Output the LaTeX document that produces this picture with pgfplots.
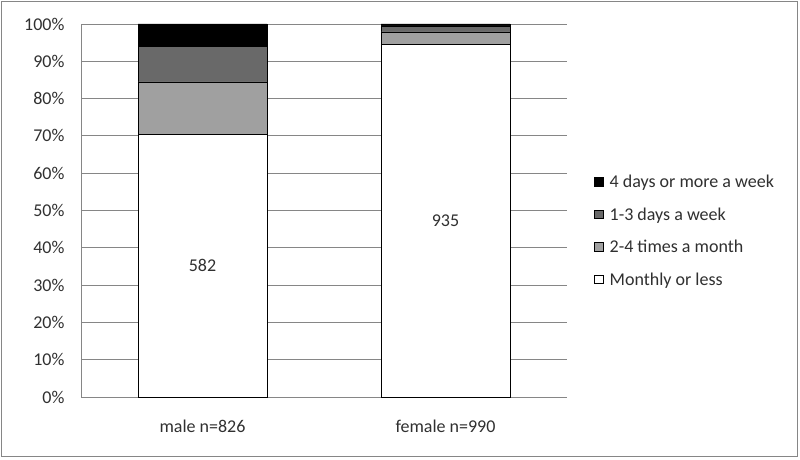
\documentclass[border=0pt]{standalone}
\usepackage{pgfplots}
\pgfplotsset{compat=1.18}
\usepackage{fontspec}
\setmainfont{Carlito}
\definecolor{darkg}{HTML}{696969}
\definecolor{lightg}{HTML}{A0A0A0}
\definecolor{gridc}{HTML}{868686}
\definecolor{txt}{HTML}{303030}
\newcommand{\ff}{\fontsize{18bp}{20bp}\selectfont}
\begin{document}
\begin{tikzpicture}
\useasboundingbox (-81bp,-63bp) rectangle (719bp,397bp);
\begin{axis}[
  at={(0,0)}, anchor=south west,
  scale only axis, width=486bp, height=373bp,
  ybar stacked, bar width=129bp,
  xmin=-0.5, xmax=1.5, ymin=0, ymax=100,
  xtick={0,1}, xticklabels={male n=826, female n=990},
  ytick={0,10,...,100},
  yticklabel={\pgfmathprintnumber{\tick}\%},
  /pgf/number format/assume math mode=true,
  ymajorgrids, grid style={gridc, line width=0.8bp},
  major tick length=0pt,
  axis lines*=left,
  x axis line style={draw=none},
  y axis line style={gridc, line width=0.8bp, -},
  every tick label/.append style={font=\ff, text=txt},
  yticklabel style={xshift=-13bp},
  xticklabel style={yshift=-19bp},
  legend style={at={(rel axis cs:1.056,0.6)}, anchor=north west, draw=none,
    font=\ff, text=txt, row sep=14.5bp, inner sep=0pt,
    cells={anchor=west}},
  legend image code/.code={\draw[#1, draw=black, line width=0.5bp] (0bp,-3.5bp) rectangle (8.5bp,5bp);
     \path[draw=none, fill=none] (0bp,0bp) -- (13bp,0bp);},
  reverse legend,
  every axis plot/.append style={draw=black, line width=0.6bp},
]
\addplot[fill=white] coordinates {(0,70.46) (1,94.44)};
\addplot[fill=lightg] coordinates {(0,14.04) (1,3.43)};
\addplot[fill=darkg] coordinates {(0,9.45) (1,1.62)};
\addplot[fill=black] coordinates {(0,6.05) (1,0.51)};
\legend{Monthly or less, 2-4 times a month, 1-3 days a week, 4 days or more a week}
\draw[gridc, line width=0.8bp] (axis cs:-0.5,0) -- (axis cs:1.5,0);
\coordinate (lm) at (axis cs:0,35.23);
\coordinate (lf) at (axis cs:1,47.2);
\end{axis}
\node[font=\ff, text=txt] at (lm) {582};
\node[font=\ff, text=txt] at (lf) {935};
\draw[gridc, line width=1bp] (-79bp,-59bp) rectangle (716bp,395bp);
\end{tikzpicture}
\end{document}
